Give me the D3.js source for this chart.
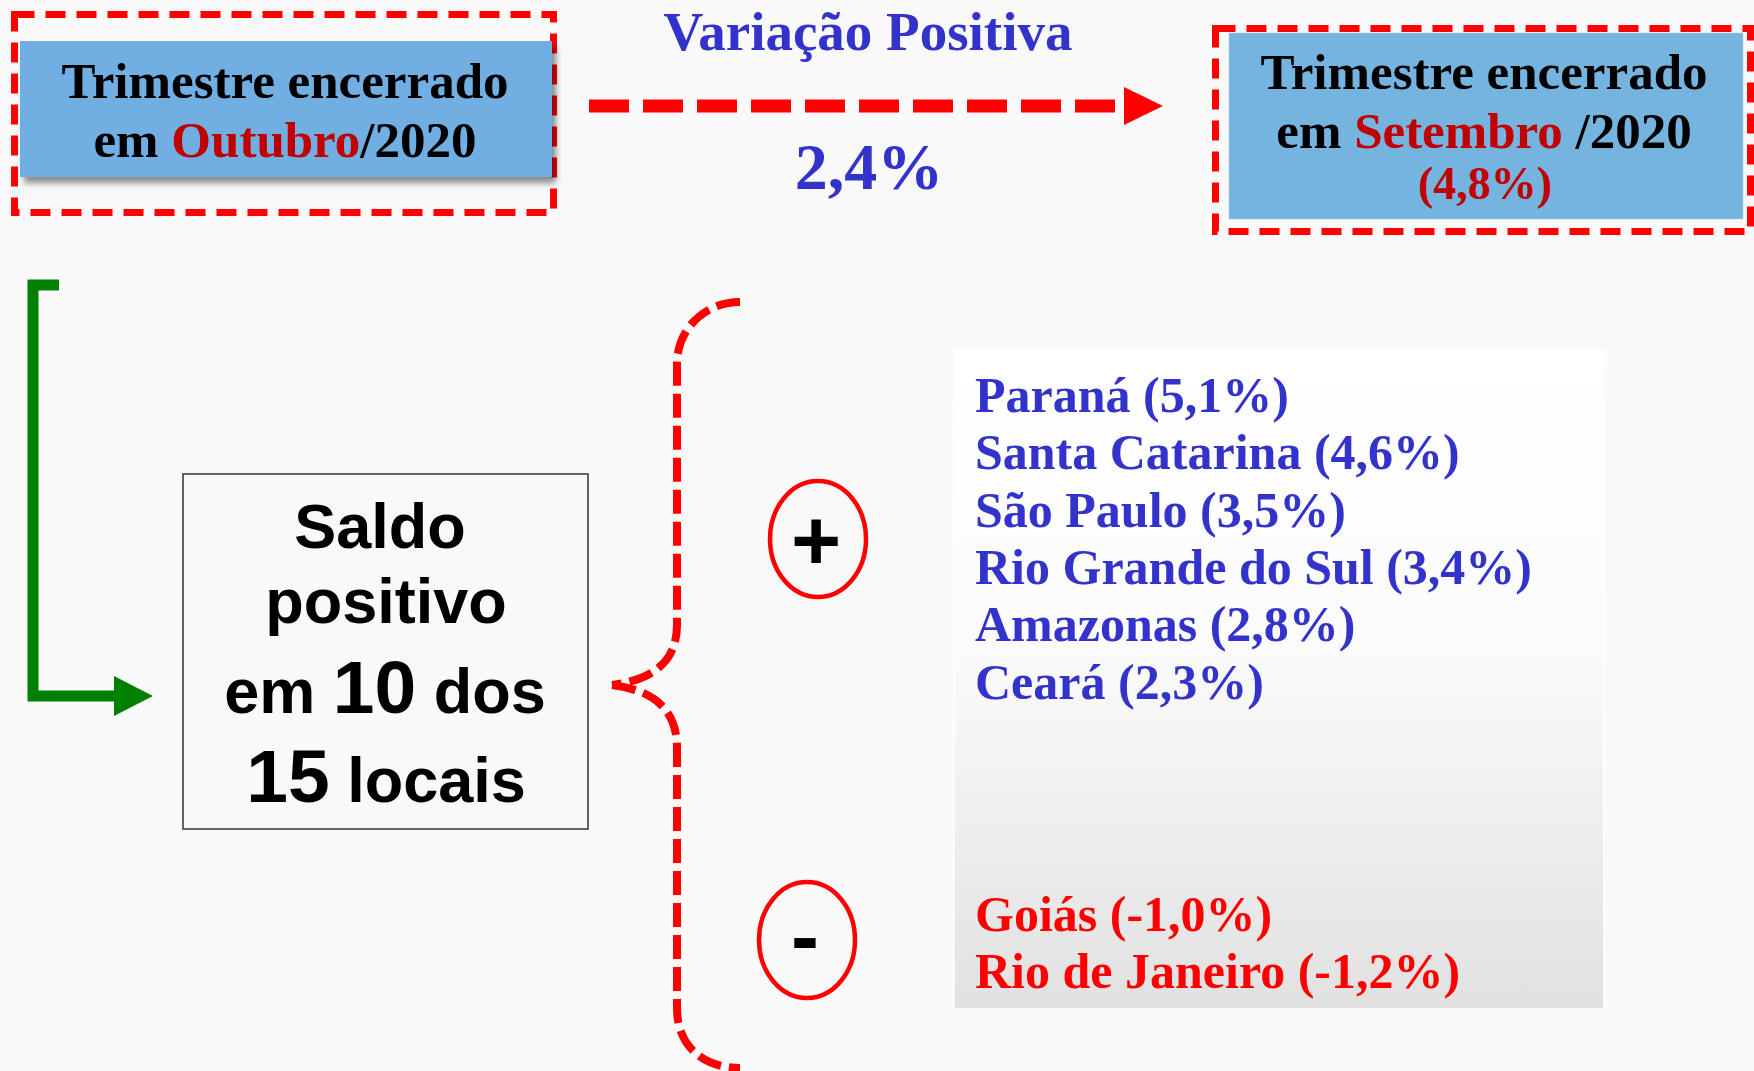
<!DOCTYPE html>
<html>
<head>
<meta charset="utf-8">
<script src="https://cdn.jsdelivr.net/npm/d3@7"></script>
<style>
  html, body { margin: 0; padding: 0; background: #f9f9f9; }
  svg { display: block; }
</style>
</head>
<body>
<svg id="chart" width="1754" height="1071"></svg>
<script>
// --- data ---
const currentPeriod = ["Trimestre encerrado", "em ", "Outubro", "/2020"];
const previousPeriod = ["Trimestre encerrado", "em ", "Setembro", " /2020"];
const variationLabel = "Variação Positiva";
const variationValue = 2.4;
const previousValue = 4.8;
const saldoLines = ["Saldo", "positivo"];
const saldoCount = 10;
const totalLocais = 15;
const positiveStates = ["Paraná", "Santa Catarina", "São Paulo", "Rio Grande do Sul", "Amazonas", "Ceará"];
const positiveValues = [5.1, 4.6, 3.5, 3.4, 2.8, 2.3];
const negativeStates = ["Goiás", "Rio de Janeiro"];
const negativeValues = [-1.0, -1.2];

const ptBR = d3.formatLocale({decimal: ",", thousands: ".", grouping: [3], currency: ["R$", ""], minus: "-"});
const pct = v => ptBR.format(".1f")(v) + "%";

const SERIF = "'Liberation Serif', 'DejaVu Serif', serif";
const SANS = "'Liberation Sans', Arial, sans-serif";
const RED = "#ff0000";
const DARKRED = "#c00000";
const BLUE = "#3333cc";

const svg = d3.select("#chart");
svg.append("rect").attr("width", 1754).attr("height", 1071).attr("fill", "#f9f9f9");

const defs = svg.append("defs");
const shadow = defs.append("filter").attr("id", "shadow")
    .attr("x", "-5%").attr("y", "-10%").attr("width", "115%").attr("height", "130%");
shadow.append("feDropShadow")
    .attr("dx", 4).attr("dy", 6).attr("stdDeviation", 3)
    .attr("flood-color", "#000").attr("flood-opacity", 0.45);

const grad = defs.append("linearGradient").attr("id", "panelFill")
    .attr("x1", 0).attr("y1", 0).attr("x2", 0).attr("y2", 1);
grad.append("stop").attr("offset", "0%").attr("stop-color", "#ffffff");
grad.append("stop").attr("offset", "45%").attr("stop-color", "#fbfbfb");
grad.append("stop").attr("offset", "100%").attr("stop-color", "#e1e1e1");

// period box helper
function periodBox(g, lines, cx, y1, y2, fs) {
    const t = g.append("text")
        .attr("text-anchor", "middle")
        .attr("font-family", SERIF)
        .attr("font-weight", "bold")
        .attr("font-size", fs);
    t.append("tspan").attr("x", cx).attr("y", y1).attr("fill", "#000").text(lines[0]);
    t.append("tspan").attr("x", cx).attr("y", y2).attr("fill", "#000").text(lines[1]);
    t.append("tspan").attr("fill", DARKRED).text(lines[2]);
    t.append("tspan").attr("fill", "#000").text(lines[3]);
    return t;
}

// --- top left box ---
const left = svg.append("g");
left.append("rect")
    .attr("x", 14.5).attr("y", 14.5).attr("width", 539).attr("height", 198)
    .attr("fill", "none").attr("stroke", RED).attr("stroke-width", 7)
    .attr("stroke-dasharray", "20 11");
left.append("rect")
    .attr("x", 20).attr("y", 41).attr("width", 532).attr("height", 136)
    .attr("fill", "#71aee2").attr("filter", "url(#shadow)");
periodBox(left, currentPeriod, 285, 98, 157, 51);

// --- top arrow ---
const arrow = svg.append("g");
arrow.append("line")
    .attr("x1", 589).attr("x2", 1124).attr("y1", 106).attr("y2", 106)
    .attr("stroke", RED).attr("stroke-width", 13)
    .attr("stroke-dasharray", "40 14");
arrow.append("path")
    .attr("d", "M1124,87 L1163,106 L1124,125 Z")
    .attr("fill", RED);
arrow.append("text")
    .attr("x", 868).attr("y", 50)
    .attr("text-anchor", "middle")
    .attr("font-family", SERIF).attr("font-weight", "bold").attr("font-size", 55)
    .attr("fill", BLUE)
    .text(variationLabel);
arrow.append("text")
    .attr("x", 869).attr("y", 189)
    .attr("text-anchor", "middle")
    .attr("font-family", SERIF).attr("font-weight", "bold").attr("font-size", 66)
    .attr("fill", BLUE)
    .text(pct(variationValue));

// --- top right box ---
const right = svg.append("g");
right.append("rect")
    .attr("x", 1215.5).attr("y", 28.5).attr("width", 535).attr("height", 203)
    .attr("fill", "none").attr("stroke", RED).attr("stroke-width", 7)
    .attr("stroke-dasharray", "20 11");
right.append("rect")
    .attr("x", 1229).attr("y", 33).attr("width", 514).attr("height", 186)
    .attr("fill", "#76b4e0").attr("stroke", "#a6c8e6").attr("stroke-width", 1)
    .attr("stroke-dasharray", "2 2");
periodBox(right, previousPeriod, 1484, 89, 148, 51);
right.append("text")
    .attr("x", 1485).attr("y", 199)
    .attr("text-anchor", "middle")
    .attr("font-family", SERIF).attr("font-weight", "bold").attr("font-size", 46)
    .attr("fill", DARKRED)
    .text("(" + pct(previousValue) + ")");

// --- green connector ---
const conn = svg.append("g");
conn.append("path")
    .attr("d", "M59,285 L33,285 L33,696 L116,696")
    .attr("fill", "none").attr("stroke", "#008000").attr("stroke-width", 11)
    .attr("stroke-linejoin", "miter");
conn.append("path")
    .attr("d", "M114,676 L153,696 L114,716 Z")
    .attr("fill", "#008000");

// --- saldo box ---
const saldo = svg.append("g");
saldo.append("rect")
    .attr("x", 183).attr("y", 474).attr("width", 405).attr("height", 355)
    .attr("fill", "#f9f9f9").attr("stroke", "#333").attr("stroke-width", 1.5);
const st = saldo.append("text")
    .attr("text-anchor", "middle")
    .attr("font-family", SANS).attr("font-weight", "bold").attr("font-size", 63)
    .attr("fill", "#000");
st.append("tspan").attr("x", 380).attr("y", 548).text(saldoLines[0]);
st.append("tspan").attr("x", 386).attr("y", 623).text(saldoLines[1]);
const st3 = saldo.append("text")
    .attr("x", 385).attr("y", 713)
    .attr("text-anchor", "middle")
    .attr("font-family", SANS).attr("font-weight", "bold").attr("font-size", 63);
st3.append("tspan").text("em ");
st3.append("tspan").attr("font-size", 75).text(saldoCount);
st3.append("tspan").text(" dos");
const st4 = saldo.append("text")
    .attr("x", 386).attr("y", 802)
    .attr("text-anchor", "middle")
    .attr("font-family", SANS).attr("font-weight", "bold").attr("font-size", 63);
st4.append("tspan").attr("font-size", 75).text(totalLocais);
st4.append("tspan").text(" locais");

// --- brace ---
svg.append("path")
    .attr("d", "M740,302 C705,302 677,329 677,364 L677,625 C677,662 652,680 612,685 " +
               "M612,685 C652,690 677,708 677,748 L677,1008 C677,1046 703,1068 740,1068")
    .attr("fill", "none").attr("stroke", RED).attr("stroke-width", 8)
    .attr("stroke-dasharray", "24 8");

// --- plus / minus markers ---
const marks = [
    {sign: "+", cx: 818, cy: 539, fs: 86, dy: 31},
    {sign: "-", cx: 807, cy: 940, fs: 84, dy: 25}
];
const mg = svg.selectAll(".mark").data(marks).enter().append("g").attr("class", "mark");
mg.append("ellipse")
    .attr("cx", d => d.cx).attr("cy", d => d.cy).attr("rx", 48).attr("ry", 58)
    .attr("fill", "none").attr("stroke", RED).attr("stroke-width", 4.5);
mg.append("text")
    .attr("x", d => d.cx - 2).attr("y", d => d.cy + d.dy)
    .attr("text-anchor", "middle")
    .attr("font-family", SANS).attr("font-weight", "bold")
    .attr("font-size", d => d.fs)
    .text(d => d.sign);

// --- state list ---
svg.append("rect")
    .attr("x", 954).attr("y", 350).attr("width", 650).attr("height", 659)
    .attr("fill", "url(#panelFill)").attr("stroke", "#ffffff").attr("stroke-width", 1.5);

const rowY = d3.scaleLinear().domain([0, 1]).range([412, 469.3]);

const posRows = positiveStates.map((s, i) => ({label: s + " (" + pct(positiveValues[i]) + ")", row: i}));
const negRows = negativeStates.map((s, i) => ({label: s + " (" + pct(negativeValues[i]) + ")", row: 9.05 + i}));

svg.selectAll(".pos").data(posRows).enter().append("text")
    .attr("class", "pos")
    .attr("x", 975).attr("y", d => rowY(d.row))
    .attr("font-family", SERIF).attr("font-weight", "bold").attr("font-size", 50)
    .attr("fill", BLUE)
    .text(d => d.label);

svg.selectAll(".neg").data(negRows).enter().append("text")
    .attr("class", "neg")
    .attr("x", 975).attr("y", d => rowY(d.row))
    .attr("font-family", SERIF).attr("font-weight", "bold").attr("font-size", 50)
    .attr("fill", RED)
    .text(d => d.label);
</script>
</body>
</html>
